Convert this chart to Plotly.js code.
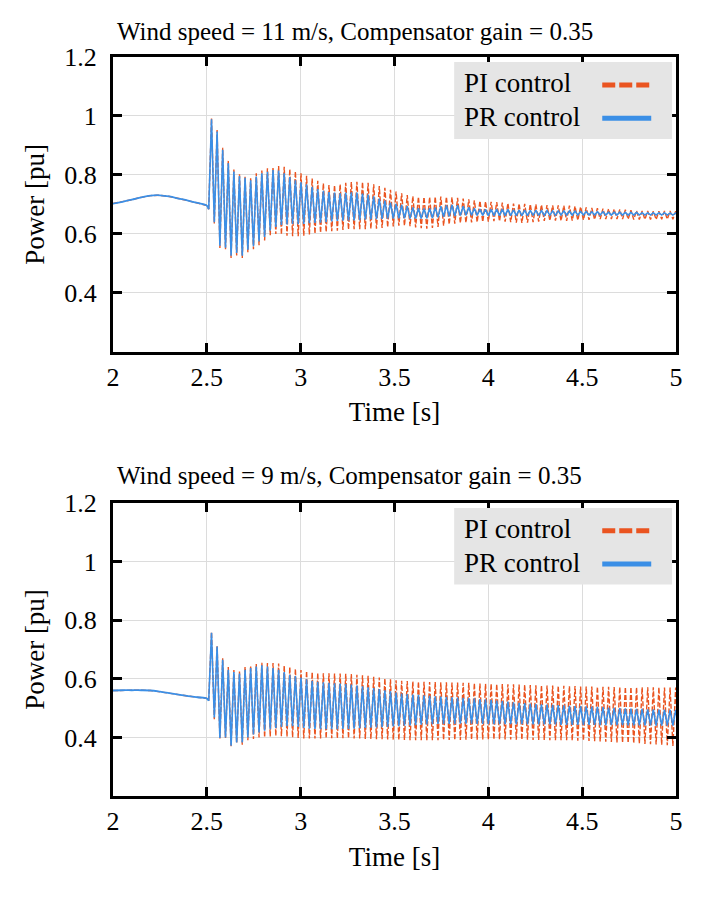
<!DOCTYPE html>
<html>
<head>
<meta charset="utf-8">
<script src="https://cdn.plot.ly/plotly-3.0.1.min.js"></script>
<style>
  html, body { margin: 0; padding: 0; background: #ffffff; }
  #chart { width: 711px; height: 900px; }
</style>
</head>
<body>
<div id="chart"></div>
<script>
// panel titles and legend names
let panelTitles = [
    "Wind speed = 11 m/s, Compensator gain = 0.35",
    "Wind speed = 9 m/s, Compensator gain = 0.35"
];
let seriesNames = ["PI control", "PR control"];

let timeTicks = [2, 2.5, 3, 3.5, 4, 4.5, 5];
let powerTicks = [0.4, 0.6, 0.8, 1, 1.2];

// before the fault both controllers give the same slow curve
let timePre = [2.0, 2.05, 2.1, 2.15, 2.2, 2.25, 2.3, 2.35, 2.4, 2.45, 2.5, 2.51];
let powerPre11 = [0.703, 0.709, 0.716, 0.724, 0.730, 0.731, 0.727, 0.720, 0.713, 0.705, 0.696, 0.684];
let powerPre9 = [0.560, 0.561, 0.561, 0.561, 0.560, 0.556, 0.551, 0.546, 0.541, 0.537, 0.533, 0.525];

// after the fault: samples every half period (peak, trough, peak, ...) from t = 2.51 s
let oscStart = 2.51;
let halfPeriod = 0.0149;

let piPower11 = [0.684,
    0.992, 0.635, 0.952, 0.552, 0.892, 0.548, 0.848, 0.518, 0.818, 0.527,
    0.802, 0.518, 0.796, 0.538, 0.789, 0.548, 0.806, 0.562, 0.815, 0.578,
    0.823, 0.596, 0.826, 0.600, 0.830, 0.598, 0.828, 0.594, 0.820, 0.592,
    0.812, 0.592, 0.806, 0.594, 0.797, 0.598, 0.788, 0.601, 0.780, 0.604,
    0.772, 0.607, 0.766, 0.609, 0.765, 0.611, 0.768, 0.613, 0.773, 0.615,
    0.776, 0.616, 0.777, 0.616, 0.776, 0.616, 0.773, 0.617, 0.768, 0.618,
    0.762, 0.620, 0.756, 0.623, 0.750, 0.625, 0.744, 0.628, 0.738, 0.628,
    0.732, 0.626, 0.728, 0.622, 0.726, 0.619, 0.725, 0.618, 0.725, 0.620,
    0.726, 0.624, 0.727, 0.628, 0.726, 0.632, 0.724, 0.635, 0.722, 0.637,
    0.720, 0.638, 0.717, 0.639, 0.714, 0.640, 0.712, 0.641, 0.710, 0.642,
    0.709, 0.643, 0.708, 0.643, 0.706, 0.642, 0.704, 0.640, 0.703, 0.638,
    0.703, 0.637, 0.702, 0.638, 0.701, 0.640, 0.700, 0.642, 0.699, 0.644,
    0.698, 0.645, 0.697, 0.645, 0.697, 0.644, 0.696, 0.644, 0.696, 0.645,
    0.694, 0.646, 0.692, 0.647, 0.690, 0.648, 0.688, 0.649, 0.687, 0.650,
    0.686, 0.650, 0.685, 0.650, 0.684, 0.650, 0.683, 0.650, 0.682, 0.650,
    0.680, 0.649, 0.679, 0.649, 0.678, 0.649, 0.678, 0.649, 0.677, 0.649,
    0.677, 0.650, 0.678, 0.650, 0.678, 0.650, 0.677, 0.650];

let prPower11 = [0.684,
    0.989, 0.640, 0.947, 0.560, 0.885, 0.553, 0.840, 0.526, 0.812, 0.535,
    0.796, 0.526, 0.790, 0.546, 0.782, 0.558, 0.795, 0.574, 0.806, 0.590,
    0.811, 0.612, 0.817, 0.624, 0.815, 0.630, 0.806, 0.632, 0.793, 0.634,
    0.782, 0.633, 0.775, 0.634, 0.768, 0.636, 0.760, 0.637, 0.752, 0.638,
    0.746, 0.640, 0.742, 0.642, 0.740, 0.644, 0.738, 0.645, 0.740, 0.646,
    0.741, 0.646, 0.740, 0.647, 0.737, 0.648, 0.733, 0.649, 0.727, 0.650,
    0.720, 0.651, 0.713, 0.652, 0.706, 0.652, 0.702, 0.653, 0.698, 0.653,
    0.694, 0.652, 0.690, 0.652, 0.687, 0.652, 0.686, 0.653, 0.687, 0.654,
    0.690, 0.656, 0.694, 0.658, 0.697, 0.660, 0.698, 0.661, 0.697, 0.662,
    0.694, 0.663, 0.690, 0.663, 0.687, 0.663, 0.684, 0.663, 0.683, 0.662,
    0.683, 0.662, 0.684, 0.662, 0.684, 0.662, 0.683, 0.662, 0.682, 0.662,
    0.681, 0.662, 0.681, 0.662, 0.680, 0.663, 0.680, 0.663, 0.679, 0.663,
    0.679, 0.663, 0.678, 0.663, 0.678, 0.664, 0.678, 0.664, 0.677, 0.664,
    0.677, 0.664, 0.676, 0.664, 0.676, 0.664, 0.675, 0.664, 0.675, 0.664,
    0.675, 0.664, 0.674, 0.664, 0.674, 0.664, 0.674, 0.664, 0.673, 0.664,
    0.673, 0.664, 0.673, 0.664, 0.672, 0.664, 0.672, 0.664, 0.672, 0.664,
    0.672, 0.664, 0.672, 0.664, 0.671, 0.664, 0.671, 0.664];

let piPower9 = [0.525,
    0.760, 0.462, 0.714, 0.396, 0.670, 0.398, 0.640, 0.370, 0.630, 0.380,
    0.625, 0.375, 0.640, 0.390, 0.645, 0.395, 0.650, 0.400, 0.655, 0.400,
    0.654, 0.403, 0.654, 0.405, 0.652, 0.404, 0.645, 0.402, 0.640, 0.400,
    0.634, 0.398, 0.630, 0.396, 0.626, 0.396, 0.622, 0.396, 0.620, 0.396,
    0.619, 0.397, 0.619, 0.397, 0.618, 0.397, 0.618, 0.397, 0.617, 0.397,
    0.616, 0.396, 0.614, 0.396, 0.612, 0.395, 0.610, 0.395, 0.607, 0.394,
    0.604, 0.394, 0.601, 0.393, 0.598, 0.392, 0.595, 0.391, 0.593, 0.391,
    0.592, 0.390, 0.591, 0.390, 0.590, 0.390, 0.590, 0.390, 0.589, 0.390,
    0.589, 0.390, 0.588, 0.391, 0.588, 0.391, 0.587, 0.391, 0.587, 0.391,
    0.586, 0.392, 0.586, 0.392, 0.585, 0.392, 0.584, 0.393, 0.583, 0.393,
    0.583, 0.393, 0.582, 0.393, 0.582, 0.393, 0.581, 0.393, 0.581, 0.392,
    0.580, 0.392, 0.580, 0.392, 0.579, 0.391, 0.578, 0.391, 0.578, 0.391,
    0.577, 0.390, 0.577, 0.390, 0.576, 0.390, 0.576, 0.390, 0.575, 0.389,
    0.575, 0.389, 0.574, 0.389, 0.574, 0.388, 0.574, 0.387, 0.573, 0.386,
    0.573, 0.385, 0.573, 0.384, 0.572, 0.383, 0.572, 0.382, 0.572, 0.381,
    0.572, 0.380, 0.571, 0.379, 0.571, 0.378, 0.571, 0.377, 0.571, 0.376,
    0.571, 0.375, 0.570, 0.373, 0.570, 0.371, 0.570, 0.369];

let prPower9 = [0.525,
    0.757, 0.468, 0.710, 0.398, 0.665, 0.400, 0.631, 0.372, 0.623, 0.383,
    0.618, 0.383, 0.631, 0.400, 0.637, 0.410, 0.642, 0.417, 0.646, 0.423,
    0.642, 0.428, 0.637, 0.432, 0.631, 0.436, 0.623, 0.438, 0.614, 0.438,
    0.609, 0.436, 0.604, 0.432, 0.598, 0.430, 0.593, 0.429, 0.590, 0.428,
    0.588, 0.428, 0.586, 0.428, 0.585, 0.428, 0.584, 0.429, 0.582, 0.429,
    0.580, 0.430, 0.577, 0.431, 0.574, 0.432, 0.571, 0.433, 0.568, 0.434,
    0.565, 0.435, 0.561, 0.436, 0.557, 0.437, 0.553, 0.438, 0.550, 0.440,
    0.548, 0.441, 0.546, 0.442, 0.545, 0.443, 0.544, 0.444, 0.542, 0.445,
    0.540, 0.446, 0.539, 0.446, 0.538, 0.446, 0.537, 0.446, 0.536, 0.447,
    0.535, 0.447, 0.534, 0.447, 0.533, 0.446, 0.531, 0.446, 0.530, 0.445,
    0.528, 0.445, 0.526, 0.445, 0.524, 0.445, 0.522, 0.445, 0.520, 0.445,
    0.518, 0.445, 0.517, 0.444, 0.515, 0.444, 0.514, 0.444, 0.513, 0.444,
    0.512, 0.444, 0.511, 0.444, 0.510, 0.443, 0.509, 0.443, 0.508, 0.443,
    0.507, 0.443, 0.507, 0.443, 0.506, 0.443, 0.505, 0.443, 0.504, 0.442,
    0.503, 0.442, 0.502, 0.442, 0.501, 0.442, 0.500, 0.442, 0.499, 0.441,
    0.498, 0.441, 0.497, 0.441, 0.497, 0.441, 0.496, 0.441, 0.496, 0.440,
    0.495, 0.440, 0.495, 0.440, 0.494, 0.440, 0.494, 0.439];

let FONT = "Liberation Serif, 'Times New Roman', Times, serif";
let PI_COLOR = "#ea5420";
let PR_COLOR = "#3b8fe6";

function addPanel(data, xa, ya, pre, pi, pr) {
    // PI first so the PR line sits on top, as in the figure
    data.push({ x: timePre, y: pre, xaxis: xa, yaxis: ya, type: "scatter", mode: "lines",
        name: seriesNames[0], showlegend: false, hoverinfo: "skip",
        line: { color: PI_COLOR, width: 1.4, dash: "5px,2px" } });
    data.push({ x0: oscStart, dx: halfPeriod, y: pi, xaxis: xa, yaxis: ya, type: "scatter", mode: "lines",
        name: seriesNames[0], showlegend: false,
        line: { color: PI_COLOR, width: 1.4, dash: "5px,2px" } });
    data.push({ x: timePre, y: pre, xaxis: xa, yaxis: ya, type: "scatter", mode: "lines",
        name: seriesNames[1], showlegend: false, hoverinfo: "skip",
        line: { color: PR_COLOR, width: 1.8, shape: "spline" } });
    data.push({ x0: oscStart, dx: halfPeriod, y: pr, xaxis: xa, yaxis: ya, type: "scatter", mode: "lines",
        name: seriesNames[1], showlegend: false,
        line: { color: PR_COLOR, width: 1.6 } });
}

function addLegend(shapes, annotations, xa, ya) {
    let xr = xa + " domain", yr = ya + " domain";
    shapes.push({ type: "rect", xref: xr, yref: yr, x0: 0.606, x1: 0.993, y0: 0.722, y1: 0.983,
        fillcolor: "#e5e5e5", line: { width: 0 } });
    shapes.push({ type: "line", xref: xr, yref: yr, x0: 0.869, x1: 0.954, y0: 0.905, y1: 0.905,
        line: { color: PI_COLOR, width: 5, dash: "13px,4px" } });
    shapes.push({ type: "line", xref: xr, yref: yr, x0: 0.869, x1: 0.956, y0: 0.792, y1: 0.792,
        line: { color: PR_COLOR, width: 5 } });
    annotations.push({ xref: xr, yref: yr, x: 0.620, y: 0.912, xanchor: "left", yanchor: "middle",
        text: seriesNames[0], showarrow: false, font: { family: FONT, size: 27, color: "#000" } });
    annotations.push({ xref: xr, yref: yr, x: 0.620, y: 0.796, xanchor: "left", yanchor: "middle",
        text: seriesNames[1], showarrow: false, font: { family: FONT, size: 27, color: "#000" } });
}

function makeXAxis(anchor) {
    return {
        anchor: anchor, domain: [0, 1], range: [2, 5],
        tickvals: timeTicks, ticktext: timeTicks.map(String),
        ticks: "inside", ticklen: 9, tickwidth: 3, tickcolor: "#000",
        showline: true, linewidth: 3, linecolor: "#000", mirror: "ticks",
        showgrid: true, gridcolor: "#dcdcdc", gridwidth: 1, zeroline: false,
        tickfont: { family: FONT, size: 26, color: "#000" },
        title: { text: "Time [s]", font: { family: FONT, size: 27, color: "#000" }, standoff: 12 },
        automargin: false
    };
}

function makeYAxis(anchor, domain) {
    return {
        anchor: anchor, domain: domain, range: [0.2, 1.2],
        tickvals: powerTicks, ticktext: powerTicks.map(String),
        ticks: "inside", ticklen: 9, tickwidth: 3, tickcolor: "#000",
        showline: true, linewidth: 3, linecolor: "#000", mirror: "ticks",
        showgrid: true, gridcolor: "#dcdcdc", gridwidth: 1, zeroline: false,
        ticklabelstandoff: 8,
        tickfont: { family: FONT, size: 26, color: "#000" },
        title: { text: "Power [pu]", font: { family: FONT, size: 27, color: "#000" }, standoff: 12 },
        automargin: false
    };
}

let data = [];
addPanel(data, "x", "y", powerPre11, piPower11, prPower11);
addPanel(data, "x2", "y2", powerPre9, piPower9, prPower9);

let shapes = [];
let annotations = [];
addLegend(shapes, annotations, "x", "y");
addLegend(shapes, annotations, "x2", "y2");

// panel titles sit above each frame, left aligned with it
annotations.push({ xref: "paper", yref: "paper", x: 0.003, y: 1.034, xanchor: "left", yanchor: "middle",
    text: panelTitles[0], showarrow: false, font: { family: FONT, size: 25, color: "#000" } });
annotations.push({ xref: "paper", yref: "paper", x: 0.003, y: 0.434, xanchor: "left", yanchor: "middle",
    text: panelTitles[1], showarrow: false, font: { family: FONT, size: 25, color: "#000" } });

let layout = {
    width: 711, height: 900, autosize: false,
    margin: { l: 113, r: 35, t: 57, b: 104 },
    paper_bgcolor: "#ffffff", plot_bgcolor: "#ffffff",
    showlegend: false,
    font: { family: FONT, color: "#000" },
    xaxis: makeXAxis("y"),
    yaxis: makeYAxis("x", [0.601, 1]),
    xaxis2: makeXAxis("y2"),
    yaxis2: makeYAxis("x2", [0, 0.3965]),
    shapes: shapes,
    annotations: annotations
};

Plotly.newPlot("chart", data, layout, { staticPlot: true, displayModeBar: false });
</script>
</body>
</html>
